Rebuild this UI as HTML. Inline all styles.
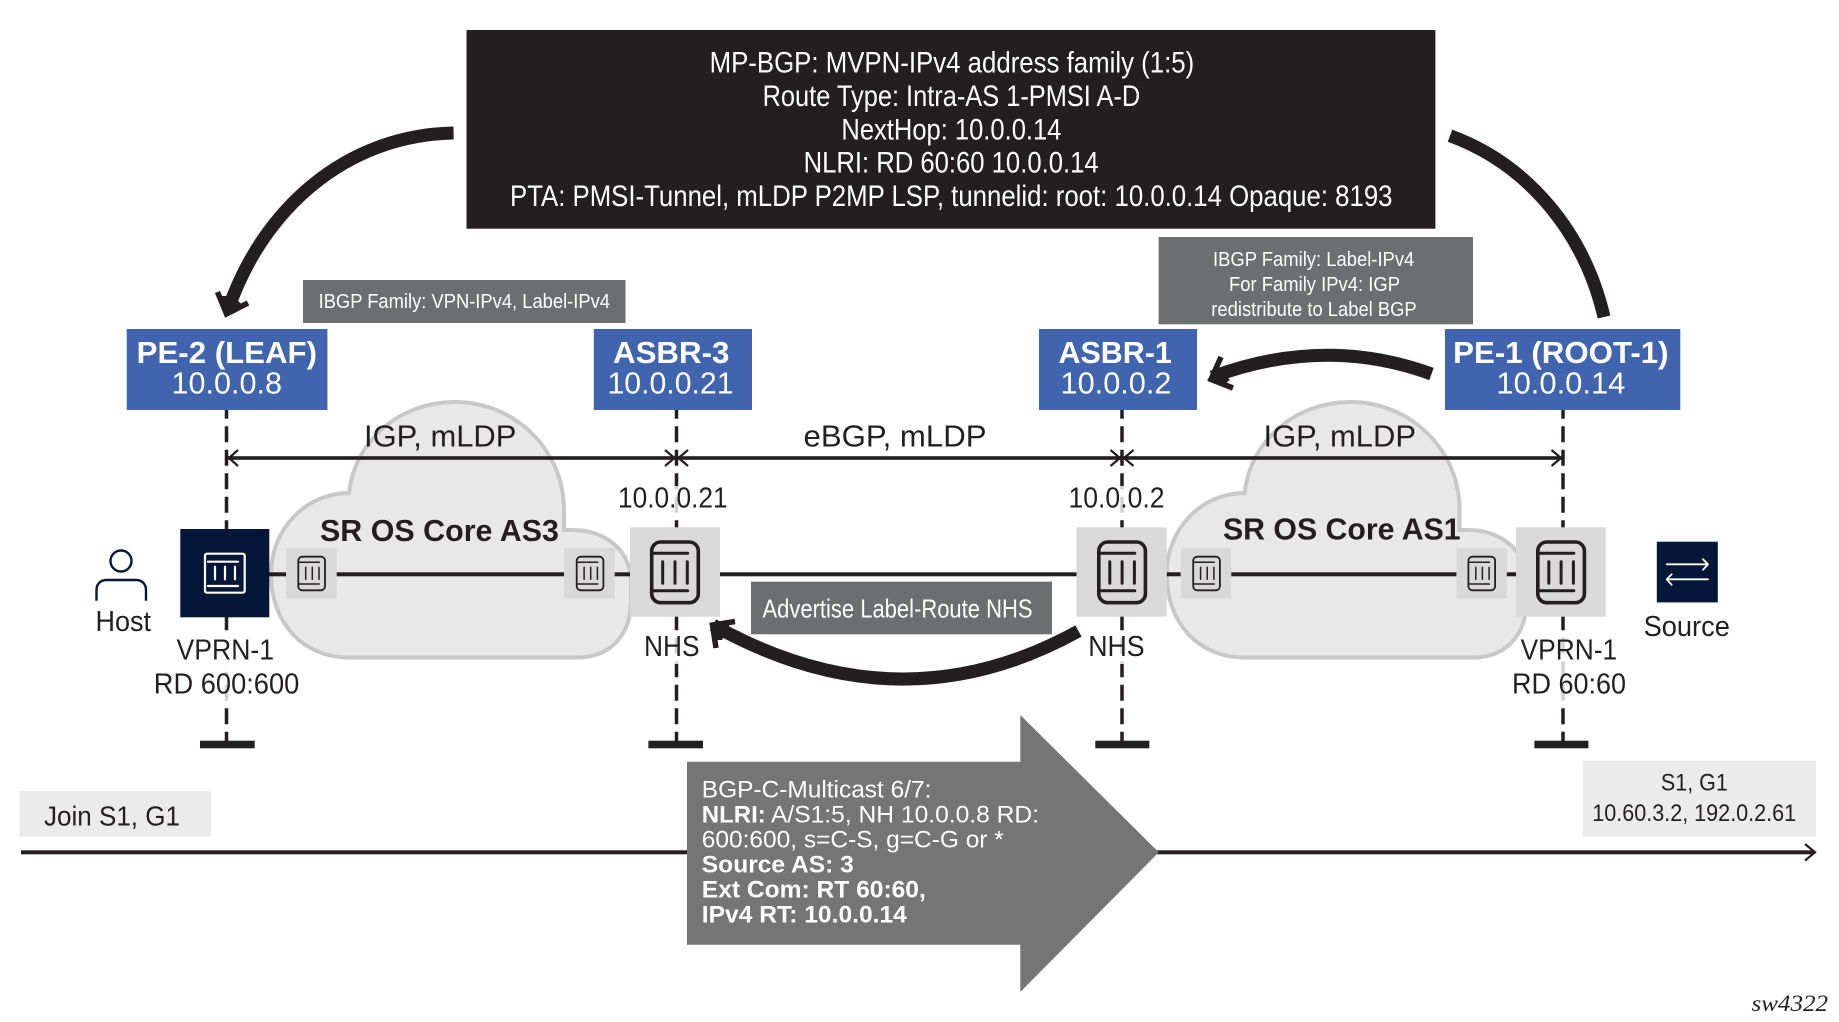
<!DOCTYPE html>
<html lang="en">
<head>
<meta charset="utf-8">
<title>MVPN inter-AS diagram</title>
<style>
html,body{margin:0;padding:0;background:#fff;width:1839px;height:1022px;overflow:hidden}
svg{display:block}
text{font-family:"Liberation Sans",sans-serif;fill:#231f20}
.w{fill:#fff}
.b{font-weight:700}
</style>
</head>
<body>
<svg width="1839" height="1022" viewBox="0 0 1839 1022" xmlns="http://www.w3.org/2000/svg">
<defs>
<g id="ilg" fill="none" stroke="#231f20" stroke-linecap="round">
  <rect x="0" y="0" width="46.6" height="60.7" rx="9" stroke-width="3.6"/>
  <path d="M1 11.3H36M1 48.7H36M11 19.7V41.3M23.3 19.7V41.3M35.6 19.7V41.3" stroke-width="3"/>
</g>
<g id="ism" fill="none" stroke="#231f20" stroke-linecap="round">
  <rect x="0" y="0" width="26.7" height="33.6" rx="4" stroke-width="1.8"/>
  <path d="M1 5.6H21M1 27.3H21M7.4 10.6V22.6M14 10.6V22.6M20.7 10.6V22.6" stroke-width="1.5"/>
</g>
<path id="cloud" d="M349 657.5C302 657.5 271 622 271 574C271 530 305 493 349 493C355 440 400 402 455 402C515 402 564 450 564 510V530H572C605 530 631 550 631 582V600C631 635 610 657.5 578 657.5Z" fill="#e8e8e8" stroke="#c8c8c8" stroke-width="4"/>
</defs>

<!-- dashed verticals -->
<g stroke="#231f20" stroke-width="3.5" stroke-dasharray="16 7.5" fill="none">
  <path d="M226.5 402.7V741"/>
  <path d="M676.5 402.7V741"/>
  <path d="M1122 402.7V741"/>
  <path d="M1563 402.7V741"/>
</g>
<!-- ground bars -->
<g fill="#231f20">
  <rect x="200" y="740.7" width="54.7" height="7.6"/>
  <rect x="648.4" y="740.7" width="54.6" height="7.6"/>
  <rect x="1095.3" y="740.7" width="54" height="7.6"/>
  <rect x="1534.4" y="740.7" width="54" height="7.6"/>
</g>

<!-- label veils over dashes -->
<g fill="#fff" fill-opacity=".8">
  <rect x="610" y="486" width="125" height="27"/>
  <rect x="1060" y="486" width="110" height="27"/>
  <rect x="640" y="632" width="65" height="32"/>
  <rect x="1085" y="632" width="65" height="32"/>
  <rect x="150" y="632" width="152" height="69"/>
  <rect x="1510" y="632" width="120" height="69"/>
</g>
<rect x="170" y="632" width="112" height="40" fill="#fff" fill-opacity=".9"/>

<!-- clouds -->
<use href="#cloud"/>
<use href="#cloud" x="895.6"/>

<!-- horizontal link -->
<rect x="269" y="572.3" width="1250" height="4" fill="#231f20"/>

<!-- devices -->
<rect x="180.3" y="529" width="89" height="88.3" fill="#051738"/>
<g fill="none" stroke="#fff" stroke-linecap="round">
  <rect x="205" y="553.7" width="39.7" height="39" rx="2" stroke-width="2.2"/>
  <path d="M208 561.7H238M208 586H238M215 566.7V579.3M225 566.7V579.3M235 566.7V579.3" stroke-width="2.2"/>
</g>

<g fill="#d9d9d9">
  <rect x="286" y="548" width="50.7" height="50.7"/>
  <rect x="564" y="548" width="50.7" height="50.7"/>
  <rect x="1180.7" y="548" width="50.6" height="50.7"/>
  <rect x="1456.4" y="548" width="50.4" height="50.7"/>
  <rect x="630" y="527.3" width="90" height="89.4"/>
  <rect x="1076.5" y="527.3" width="90.3" height="89.4"/>
  <rect x="1516" y="527.3" width="89.8" height="89.4"/>
</g>
<use href="#ism" x="298.3" y="556.7"/>
<use href="#ism" x="576.7" y="556.7"/>
<use href="#ism" x="1193.2" y="556.7"/>
<use href="#ism" x="1468.4" y="556.7"/>
<use href="#ilg" x="651.7" y="542"/>
<use href="#ilg" x="1098.8" y="542"/>
<use href="#ilg" x="1537.8" y="542"/>

<!-- host -->
<g fill="none" stroke="#051738" stroke-width="2.4">
  <circle cx="121" cy="561" r="10.5"/>
  <path d="M96.5 600.7V590C96.5 584 100.5 580 106.5 580H136C142 580 146 584 146 590V600.7"/>
</g>

<!-- source -->
<rect x="1656.8" y="541.7" width="61" height="60.7" fill="#051738"/>
<g fill="none" stroke="#fff" stroke-width="1.8" stroke-linecap="round" stroke-linejoin="round">
  <path d="M1666.7 564.3H1708M1703 559.3L1708 564.3L1703 569.8"/>
  <path d="M1708 579.3H1666.7M1671.7 574.3L1666.7 579.3L1671.7 584.8"/>
</g>

<!-- black box -->
<rect x="466.5" y="30" width="968.9" height="198.7" fill="#231f20"/>
<text class="w" x="709.6" y="72.7" font-size="29.5" textLength="484.6" lengthAdjust="spacingAndGlyphs">MP-BGP: MVPN-IPv4 address family (1:5)</text>
<text class="w" x="762.6" y="106" font-size="29.5" textLength="377.6" lengthAdjust="spacingAndGlyphs">Route Type: Intra-AS 1-PMSI A-D</text>
<text class="w" x="841.4" y="139.5" font-size="29.5" textLength="220" lengthAdjust="spacingAndGlyphs">NextHop: 10.0.0.14</text>
<text class="w" x="803.6" y="172.7" font-size="29.5" textLength="295" lengthAdjust="spacingAndGlyphs">NLRI: RD 60:60 10.0.0.14</text>
<text class="w" x="510" y="206" font-size="29.5" textLength="882.5" lengthAdjust="spacingAndGlyphs">PTA: PMSI-Tunnel, mLDP P2MP LSP, tunnelid: root: 10.0.0.14 Opaque: 8193</text>

<!-- gray notes -->
<rect x="303" y="280" width="322.5" height="43" fill="#6d6e70"/>
<text class="w" x="318.6" y="308" font-size="20" textLength="291.4" lengthAdjust="spacingAndGlyphs">IBGP Family: VPN-IPv4, Label-IPv4</text>

<rect x="1158.6" y="237" width="314.4" height="87.3" fill="#6d6e70"/>
<text class="w" x="1213" y="266" font-size="20" textLength="201.3" lengthAdjust="spacingAndGlyphs">IBGP Family: Label-IPv4</text>
<text class="w" x="1229" y="291" font-size="20" textLength="171" lengthAdjust="spacingAndGlyphs">For Family IPv4: IGP</text>
<text class="w" x="1211.3" y="316" font-size="20" textLength="205.4" lengthAdjust="spacingAndGlyphs">redistribute to Label BGP</text>

<rect x="751" y="581.7" width="301" height="52.6" fill="#6d6e70"/>
<text class="w" x="762.5" y="617.7" font-size="26" textLength="270" lengthAdjust="spacingAndGlyphs">Advertise Label-Route NHS</text>

<!-- blue nodes -->
<g fill="#4064ad">
  <rect x="126.7" y="329" width="200.7" height="81"/>
  <rect x="593.8" y="329" width="158.2" height="81"/>
  <rect x="1039" y="329" width="158" height="81"/>
  <rect x="1445" y="329" width="235.3" height="81"/>
</g>
<text class="w b" x="136.7" y="363" font-size="30.5" textLength="180.3" lengthAdjust="spacingAndGlyphs">PE-2 (LEAF)</text>
<text class="w" x="171.5" y="393.3" font-size="30.5" textLength="110.5" lengthAdjust="spacingAndGlyphs">10.0.0.8</text>
<text class="w b" x="613" y="363" font-size="30.5" textLength="116.4" lengthAdjust="spacingAndGlyphs">ASBR-3</text>
<text class="w" x="607.5" y="393.3" font-size="30.5" textLength="126" lengthAdjust="spacingAndGlyphs">10.0.0.21</text>
<text class="w b" x="1058.5" y="363" font-size="30.5" textLength="113.3" lengthAdjust="spacingAndGlyphs">ASBR-1</text>
<text class="w" x="1060.5" y="393.3" font-size="30.5" textLength="111" lengthAdjust="spacingAndGlyphs">10.0.0.2</text>
<text class="w b" x="1453.2" y="363" font-size="30.5" textLength="215.4" lengthAdjust="spacingAndGlyphs">PE-1 (ROOT-1)</text>
<text class="w" x="1496.4" y="393.3" font-size="30.5" textLength="129" lengthAdjust="spacingAndGlyphs">10.0.0.14</text>

<!-- thick curved arrows -->
<g fill="none" stroke="#231f20">
  <path d="M453.6 133C345 135 262 210 228 310" stroke-width="13"/>
  <path d="M217.5 292L226.5 314L248 303" stroke-width="5.5" stroke-linejoin="miter"/>
  <path d="M1450 135.7C1530 165 1585 235 1604 317" stroke-width="13"/>
  <path d="M1431.5 374Q1325 335 1212 377" stroke-width="13"/>
  <path d="M1221 357L1211 379.5L1233 388" stroke-width="5.5" stroke-linejoin="miter"/>
  <path d="M1078.5 631Q900 730 713 625" stroke-width="13"/>
  <path d="M735 621.5L712.5 625L716 648" stroke-width="5.5" stroke-linejoin="miter"/>
</g>
<g fill="#231f20">
  <polygon points="219,296 225,317 244,306 232,296"/>
  <polygon points="1207.3,380 1217,367 1230,380 1222,386"/>
  <polygon points="709.3,622.7 730,624 722,640 714,640"/>
</g>

<!-- span arrows -->
<rect x="226.5" y="456.2" width="1336.5" height="3.6" fill="#231f20"/>
<g fill="none" stroke="#231f20" stroke-width="2.2">
  <path d="M238 450L229 458L238 466"/>
  <path d="M665 450L674.5 458L665 466"/>
  <path d="M688 450L678.5 458L688 466"/>
  <path d="M1110.5 450L1120 458L1110.5 466"/>
  <path d="M1133.5 450L1124 458L1133.5 466"/>
  <path d="M1551.5 450L1561 458L1551.5 466"/>
</g>
<text x="364" y="446.7" font-size="30.5" textLength="152.4" lengthAdjust="spacingAndGlyphs">IGP, mLDP</text>
<text x="803.5" y="446.7" font-size="30.5" textLength="183" lengthAdjust="spacingAndGlyphs">eBGP, mLDP</text>
<text x="1263.5" y="446.7" font-size="30.5" textLength="152.5" lengthAdjust="spacingAndGlyphs">IGP, mLDP</text>

<text x="618" y="507.3" font-size="28.5" textLength="109.6" lengthAdjust="spacingAndGlyphs">10.0.0.21</text>
<text x="1068.5" y="507.3" font-size="28.5" textLength="96" lengthAdjust="spacingAndGlyphs">10.0.0.2</text>

<text class="b" x="320" y="541" font-size="30.5" textLength="239" lengthAdjust="spacingAndGlyphs">SR OS Core AS3</text>
<text class="b" x="1223" y="539.3" font-size="30.5" textLength="237.6" lengthAdjust="spacingAndGlyphs">SR OS Core AS1</text>

<text x="95.5" y="631" font-size="28.5" textLength="55.5" lengthAdjust="spacingAndGlyphs">Host</text>
<text x="176.5" y="659.3" font-size="28.5" textLength="97.6" lengthAdjust="spacingAndGlyphs">VPRN-1</text>
<text x="153.8" y="693.7" font-size="28.5" textLength="145.5" lengthAdjust="spacingAndGlyphs">RD 600:600</text>
<text x="644" y="656" font-size="28.5" textLength="55.5" lengthAdjust="spacingAndGlyphs">NHS</text>
<text x="1088.2" y="656" font-size="28.5" textLength="56.4" lengthAdjust="spacingAndGlyphs">NHS</text>
<text x="1520.6" y="659.3" font-size="28.5" textLength="96.5" lengthAdjust="spacingAndGlyphs">VPRN-1</text>
<text x="1512" y="693.7" font-size="28.5" textLength="114" lengthAdjust="spacingAndGlyphs">RD 60:60</text>
<text x="1643.6" y="636" font-size="28.5" textLength="86.3" lengthAdjust="spacingAndGlyphs">Source</text>

<!-- bottom flow -->
<rect x="19.4" y="791" width="191.6" height="45.7" fill="#ebebeb"/>
<text x="44" y="825.3" font-size="27.5" textLength="136" lengthAdjust="spacingAndGlyphs">Join S1, G1</text>
<rect x="1582.9" y="760.7" width="233.1" height="76" fill="#ebebeb"/>
<text x="1660.9" y="790.3" font-size="24.5" textLength="67" lengthAdjust="spacingAndGlyphs">S1, G1</text>
<text x="1592.2" y="821" font-size="24.5" textLength="204" lengthAdjust="spacingAndGlyphs">10.60.3.2, 192.0.2.61</text>

<rect x="21" y="850.3" width="1793" height="4" fill="#231f20"/>
<path d="M1805 844L1815 852.3L1805 860.5" fill="none" stroke="#231f20" stroke-width="2.2"/>
<polygon points="687,761.7 1020.3,761.7 1020.3,715 1158.8,852.3 1020.3,992 1020.3,944.7 687,944.7" fill="#757575"/>

<text class="w" x="701.8" y="797.7" font-size="24.5" textLength="229.6" lengthAdjust="spacingAndGlyphs">BGP-C-Multicast 6/7:</text>
<text class="w b" x="701.8" y="822.7" font-size="24.5" textLength="64" lengthAdjust="spacingAndGlyphs">NLRI:</text>
<text class="w" x="771" y="822.7" font-size="24.5" textLength="268" lengthAdjust="spacingAndGlyphs">A/S1:5, NH 10.0.0.8 RD:</text>
<text class="w" x="701.8" y="847.7" font-size="24.5" textLength="302" lengthAdjust="spacingAndGlyphs">600:600, s=C-S, g=C-G or *</text>
<text class="w b" x="701.8" y="872.7" font-size="24.5" textLength="152" lengthAdjust="spacingAndGlyphs">Source AS: 3</text>
<text class="w b" x="701.8" y="897.7" font-size="24.5" textLength="224" lengthAdjust="spacingAndGlyphs">Ext Com: RT 60:60,</text>
<text class="w b" x="701.8" y="922.7" font-size="24.5" textLength="205" lengthAdjust="spacingAndGlyphs">IPv4 RT: 10.0.0.14</text>

<text x="1751.5" y="1011" font-size="23.5" font-style="italic" style="font-family:'Liberation Serif',serif" textLength="76.5" lengthAdjust="spacingAndGlyphs">sw4322</text>
</svg>
</body>
</html>
